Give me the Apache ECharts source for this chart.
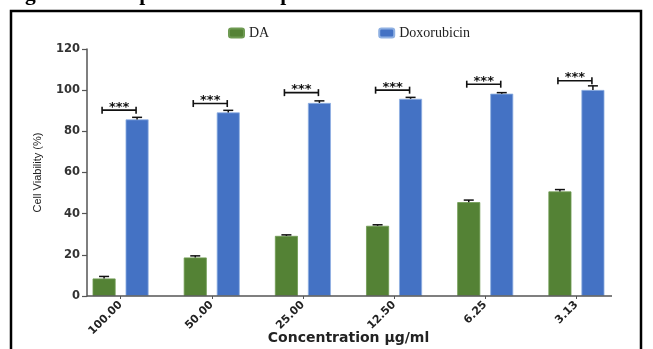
<!DOCTYPE html>
<html><head><meta charset="utf-8">
<script src="https://cdn.jsdelivr.net/npm/echarts@6/dist/echarts.min.js"></script>
<style>html,body{margin:0;padding:0;background:#fff}#c{width:653px;height:349px}</style>
</head><body><div id="c"></div>
<script>
// ---- data ----
const categories = ['100.00', '50.00', '25.00', '12.50', '6.25', '3.13'];
const daValues   = [8.5, 18.7, 29.2, 34.1, 45.6, 50.8];
const daErrors   = [1.0, 0.8, 0.5, 0.5, 1.0, 0.9];
const doxValues  = [85.8, 89.2, 93.8, 95.8, 98.3, 100.1];
const doxErrors  = [1.0, 1.0, 1.0, 0.7, 0.5, 2.0];
const sigLevels  = [90.3, 93.5, 98.8, 100.0, 102.9, 104.6];
const sigLabels  = ['***', '***', '***', '***', '***', '***'];
const yMin = 0, yMax = 120, yStep = 20;
const captionText = 'Figure 4: Comparison of anti-proliferative effect of DA and Doxorubicin';

// ---- styling constants ----
const BAR_W = 23, BAR_GAP = 10, OFF = (BAR_W + BAR_GAP) / 2;
const GREEN = '#548235', BLUE = '#4472C4';
const FONT = 'Liberation Sans, Arial, sans-serif';
const WIDE = 'DejaVu Sans, Verdana, sans-serif';
const SERIF = 'Liberation Serif, Times New Roman, serif';

const chart = echarts.init(document.getElementById('c'), null, {renderer: 'canvas'});

function errRender(offset) {
  return function (params, api) {
    const i = api.value(0), v = api.value(1), e = api.value(2);
    const base = api.coord([i, v]);
    const top = api.coord([i, v + e]);
    const x = base[0] + offset;
    const st = {stroke: '#111', lineWidth: 1.5};
    return {type: 'group', children: [
      {type: 'line', shape: {x1: x, y1: base[1], x2: x, y2: top[1]}, style: st},
      {type: 'line', shape: {x1: x - 5, y1: top[1], x2: x + 5, y2: top[1]}, style: st}
    ]};
  };
}

function sigRender(params, api) {
  const i = api.value(0), v = api.value(1);
  const p = api.coord([i, v]);
  const x1 = p[0] - OFF - 2, x2 = p[0] + OFF - 1, y = p[1];
  const st = {stroke: '#111', lineWidth: 1.6};
  return {type: 'group', children: [
    {type: 'line', shape: {x1: x1, y1: y, x2: x2, y2: y}, style: st},
    {type: 'line', shape: {x1: x1, y1: y - 3.5, x2: x1, y2: y + 3.5}, style: st},
    {type: 'line', shape: {x1: x2, y1: y - 3.5, x2: x2, y2: y + 3.5}, style: st},
    {type: 'text', x: (x1 + x2) / 2, y: y - 3,
     style: {text: sigLabels[i], fill: '#111', font: 'bold 13px ' + WIDE, align: 'center', verticalAlign: 'middle'}}
  ]};
}

const option = {
  animation: false,
  backgroundColor: '#fff',
  textStyle: {fontFamily: FONT},
  legend: {
    data: ['DA', 'Doxorubicin'],
    top: 21, left: 223,
    itemWidth: 15, itemHeight: 9, itemGap: 109,
    textStyle: {fontFamily: SERIF, fontSize: 14, color: '#222'}
  },
  grid: {left: 75, width: 547, top: 49, bottom: 53, containLabel: false, outerBoundsMode: 'none'},
  xAxis: {
    type: 'category',
    data: categories,
    axisLine: {show: false},
    axisTick: {show: true, alignWithLabel: true, length: 3, lineStyle: {color: '#555', width: 1}},
    axisLabel: {rotate: 45, fontSize: 11, fontWeight: 'bold', color: '#222', margin: 7, fontFamily: WIDE},
    name: 'Concentration µg/ml',
    nameLocation: 'middle', nameGap: 35, nameMoveOverlap: false,
    nameTextStyle: {fontSize: 14, fontWeight: 'bold', color: '#222', fontFamily: WIDE}
  },
  yAxis: {
    type: 'value', min: yMin, max: yMax, interval: yStep,
    offset: -12,
    axisLine: {show: true, lineStyle: {color: '#555', width: 1.5}},
    axisTick: {show: true, length: 5, lineStyle: {color: '#555', width: 1.2}},
    axisLabel: {fontSize: 11.5, fontWeight: 'bold', color: '#333', margin: 7, fontFamily: WIDE},
    splitLine: {show: false},
    name: 'Cell Viability (%)',
    nameLocation: 'middle', nameGap: 44, nameRotate: 90, nameMoveOverlap: false,
    nameTextStyle: {fontSize: 11, color: '#222', fontFamily: FONT}
  },
  series: [
    {name: 'DA', type: 'bar', data: daValues, barWidth: BAR_W, barGap: (BAR_GAP / BAR_W * 100) + '%',
     itemStyle: {color: GREEN, borderColor: '#6e9a52', borderWidth: 0.8}},
    {name: 'Doxorubicin', type: 'bar', data: doxValues, barWidth: BAR_W,
     itemStyle: {color: BLUE, borderColor: '#8fb0e2', borderWidth: 0.8}},
    {type: 'custom', renderItem: errRender(-OFF), z: 5,
     data: daValues.map((v, i) => [i, v, daErrors[i]])},
    {type: 'custom', renderItem: errRender(OFF), z: 5,
     data: doxValues.map((v, i) => [i, v, doxErrors[i]])},
    {type: 'custom', renderItem: sigRender, z: 6,
     data: sigLevels.map((v, i) => [i, v])}
  ],
  graphic: [
    {type: 'line', shape: {x1: 87, y1: 296, x2: 612, y2: 296}, style: {stroke: '#555', lineWidth: 1.5}, z: 10},
    {type: 'rect', shape: {x: 11, y: 11, width: 630, height: 360}, style: {fill: 'none', stroke: '#000', lineWidth: 2.5}, z: 10},
    {type: 'text', x: 6, y: 5, style: {text: captionText, font: 'bold 21.5px ' + SERIF, fill: '#000', verticalAlign: 'bottom'}, z: 10}
  ]
};
chart.setOption(option);
</script>
</body></html>
